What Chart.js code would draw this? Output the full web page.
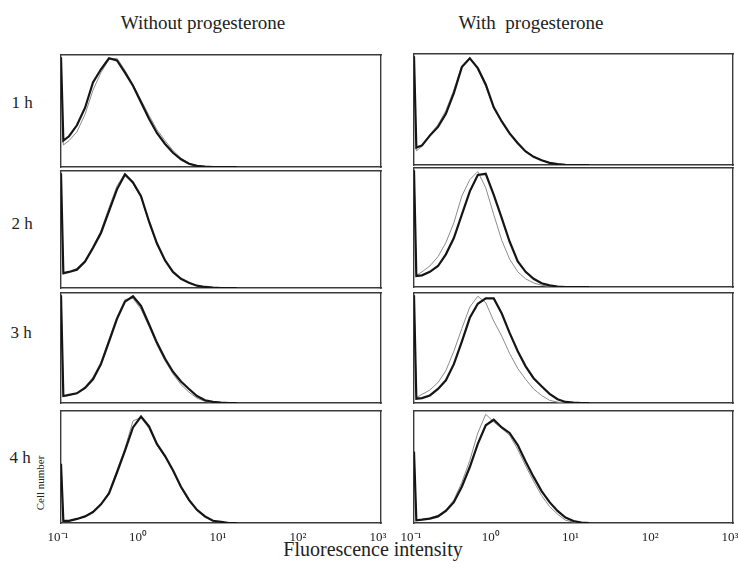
<!DOCTYPE html>
<html>
<head>
<meta charset="utf-8">
<script src="https://cdn.jsdelivr.net/npm/chart.js@4.4.1/dist/chart.umd.min.js"></script>
<style>
  html, body { margin: 0; padding: 0; background: #fff; overflow: hidden; }
  #page { position: relative; width: 738px; height: 569px; overflow: hidden; font-family: 'Liberation Serif', 'DejaVu Serif', serif; color: #222; }
  .txt { position: absolute; white-space: pre; line-height: 1; transform: translate(-50%, -50%); }
  canvas { position: absolute; }
</style>
</head>
<body>
<div id="page">
  <div class="txt" style="left:203px;top:22px;font-size:19px">Without progesterone</div>
  <div class="txt" style="left:531px;top:22px;font-size:19px">With  progesterone</div>
  <div class="txt" style="left:22px;top:102px;font-size:17px">1 h</div>
  <div class="txt" style="left:22px;top:223px;font-size:17px">2 h</div>
  <div class="txt" style="left:21px;top:332px;font-size:17px">3 h</div>
  <div class="txt" style="left:20px;top:457px;font-size:17px">4 h</div>
  <div class="txt" style="left:40px;top:483px;font-size:11px;transform:translate(-50%,-50%) rotate(-90deg)">Cell number</div>
  <div class="txt" style="left:373px;top:549px;font-size:20px">Fluorescence intensity</div>
</div>
<script>
// fluorescence channels (log scale), shared by every histogram
const FLUOR = [0.1, 0.107, 0.126, 0.158, 0.2, 0.251, 0.316, 0.398, 0.501, 0.631, 0.794, 1,
  1.26, 1.58, 2, 2.51, 3.16, 3.98, 5.01, 6.31, 7.94, 10, 12.6, 15.8];

const TICK_VALUES = [0.1, 1, 10, 100, 1000];
const TICK_LABELS = ['10⁻¹', '10⁰', '10¹', '10²', '10³'];

// cell number, % of panel height — without progesterone
const wo1hBold = [100, 24, 28, 38, 54, 77, 89, 99, 97, 86, 74, 59, 44, 31, 21, 13, 7, 3, 1, 0.3, 0, 0, 0, 0];
const wo1hThin = [100, 20, 24, 32, 48, 70, 86, 98, 99, 88, 75, 61, 47, 34, 24, 15, 8, 3.5, 1, 0.3, 0, 0, 0, 0];
const wo2hBold = [100, 13, 14, 16, 23, 35, 48, 67, 86, 99, 92, 80, 58, 39, 24, 14, 8, 4.5, 2, 0.9, 0.3, 0, 0, 0];
const wo2hThin = [100, 12, 14, 17, 24, 36, 50, 70, 89, 100, 91, 79, 57, 38, 24, 14, 8, 4.5, 2, 0.8, 0.2, 0, 0, 0];
const wo3hBold = [100, 6.5, 7.5, 9, 14, 22, 36, 57, 78, 94, 99, 90, 73, 56, 41, 29, 20, 13, 6.5, 2.5, 1, 0.3, 0, 0];
const wo3hThin = [100, 6, 7, 9.5, 15, 24, 38, 59, 80, 96, 97, 87, 71, 54, 39, 27, 17, 10, 4.5, 1.5, 0.5, 0, 0, 0];
const wo4hBold = [54, 2, 2, 3.7, 6, 10, 17, 27, 46, 66, 87, 97, 88, 72, 61, 48, 33, 21, 12, 6, 2, 1, 0, 0];
const wo4hThin = [54, 2, 2, 3.5, 6, 10, 17, 28, 48, 68, 93, 96, 86, 71, 60, 47, 32, 20, 11, 5, 2, 0.5, 0, 0];

// with progesterone
const w1hBold = [100, 16, 18, 27, 35, 47, 66, 90, 98, 89, 74, 53, 40, 29, 20, 12.5, 7.5, 4.3, 2, 0.8, 0.2, 0, 0, 0];
const w1hThin = [100, 13, 17, 28, 37, 50, 69, 91, 99, 88, 72, 52, 40, 30, 21, 13, 8, 4.5, 2, 0.8, 0.2, 0, 0, 0];
const w2hBold = [100, 9.5, 10, 13, 18, 28, 42, 62, 82, 96, 97, 79, 59, 39, 22, 13, 7, 3.2, 1.4, 0.4, 0, 0, 0, 0];
const w2hThin = [100, 10, 13, 18, 26, 38, 55, 78, 92, 99, 85, 62, 40, 24, 13, 7, 3.5, 1.5, 0.5, 0, 0, 0, 0, 0];
const w3hBold = [100, 4, 4.5, 7, 13, 21, 36, 57, 79, 92, 97, 97, 83, 65, 48, 34, 23, 15.5, 8.5, 3.5, 1, 0.3, 0, 0];
const w3hThin = [100, 5, 8, 12, 19, 30, 48, 69, 89, 99, 93, 76, 62, 46, 32, 22, 13, 7, 2.5, 0.8, 0, 0, 0, 0];
const w4hBold = [65, 2.5, 3, 4, 6, 11, 19, 33, 51, 72, 89, 94, 87, 82, 71, 56, 42, 29, 19, 11, 5, 1.8, 0.3, 0];
const w4hThin = [65, 2.5, 3, 4.5, 7, 12, 21, 37, 57, 82, 99, 92, 86, 80, 67, 52, 38, 25, 15, 8, 2.5, 0.8, 0, 0];

// panel boxes on the page: [left, right] per column, [top, bottom] per row
const COLS = [[61, 381], [414, 733]];
const ROWS = [
  [[55, 167], [171, 288], [293, 403], [411, 522]],
  [[54, 165], [168, 287], [293, 403], [411, 522]],
];
const SIDE = 26;      // room left/right of each box for the edge tick labels
const AXIS_H = 24;    // fixed height of the labelled x axis under the bottom row

const panels = [
  [[wo1hBold, wo1hThin], [wo2hBold, wo2hThin], [wo3hBold, wo3hThin], [wo4hBold, wo4hThin]],
  [[w1hBold, w1hThin], [w2hBold, w2hThin], [w3hBold, w3hThin], [w4hBold, w4hThin]],
];

const toPoints = (ys) => ys.map((y, i) => ({ x: FLUOR[i], y }));
const frame = { color: '#3a3a3a', width: 1.4 };

function edgeAxis(axis, position) {
  return {
    axis, position, display: true,
    grid: { display: false, drawTicks: false },
    ticks: { display: false },
    border: frame,
  };
}

function makePanel(col, row) {
  const [bold, thin] = panels[col][row];
  const [left, right] = COLS[col];
  const [top, bottom] = ROWS[col][row];
  const showTicks = row === 3;

  const canvas = document.createElement('canvas');
  canvas.width = right - left + 2 * SIDE;
  canvas.height = bottom - top + 2 + (showTicks ? AXIS_H : 0);
  canvas.style.left = (left - SIDE) + 'px';
  canvas.style.top = (top - 1) + 'px';
  document.getElementById('page').appendChild(canvas);

  new Chart(canvas, {
    type: 'line',
    data: {
      datasets: [
        { data: toPoints(bold), borderColor: '#151515', borderWidth: 2.2, pointRadius: 0, order: 0 },
        { data: toPoints(thin), borderColor: '#8c8c8c', borderWidth: 1, pointRadius: 0, order: 1 },
      ],
    },
    options: {
      responsive: false,
      animation: false,
      events: [],
      layout: { padding: { left: SIDE, right: SIDE, top: 1, bottom: 1 } },
      plugins: { legend: { display: false }, tooltip: { enabled: false } },
      scales: {
        x: {
          type: 'logarithmic',
          min: 0.1,
          max: 1000,
          grid: { display: false, drawTicks: false },
          border: frame,
          afterBuildTicks: (axis) => { axis.ticks = TICK_VALUES.map((v) => ({ value: v })); },
          afterFit: (axis) => { if (showTicks) axis.height = AXIS_H - 1; },
          ticks: {
            display: showTicks,
            autoSkip: false,
            maxRotation: 0,
            padding: 7,
            labelOffset: -3,
            color: '#222',
            font: { family: "'Liberation Serif', serif", size: 13 },
            callback: (v) => TICK_LABELS[TICK_VALUES.indexOf(v)] ?? '',
          },
        },
        y: {
          min: 0,
          max: 102,
          grid: { display: false, drawTicks: false },
          ticks: { display: false },
          border: frame,
        },
        x2: edgeAxis('x', 'top'),
        y2: edgeAxis('y', 'right'),
      },
    },
  });
}

for (let c = 0; c < 2; c++) {
  for (let r = 0; r < 4; r++) makePanel(c, r);
}
</script>
</body>
</html>
